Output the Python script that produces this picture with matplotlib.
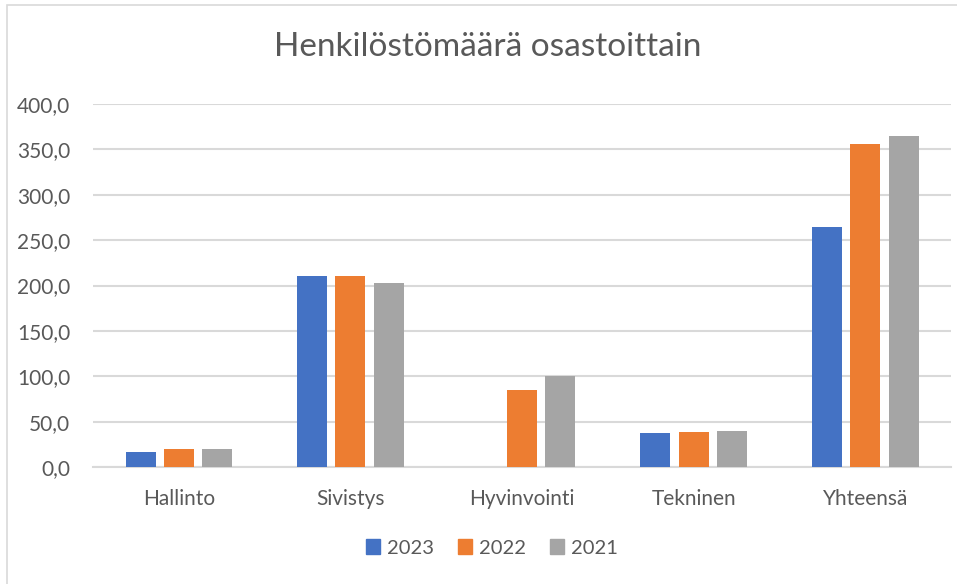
import matplotlib
matplotlib.use("Agg")
import matplotlib.pyplot as plt
import numpy as np
from matplotlib.patches import Rectangle

categories = ["Hallinto", "Sivistys", "Hyvinvointi", "Tekninen", "Yhteensä"]
series_names = ["2023", "2022", "2021"]
v2023 = [16.5, 210.4, 0.0, 37.1, 265.0]
v2022 = [19.5, 210.0, 84.9, 38.6, 355.8]
v2021 = [19.8, 202.6, 100.5, 39.3, 365.1]
yticks = [0, 50, 100, 150, 200, 250, 300, 350, 400]
colors = ["#4472C4", "#ED7D31", "#A5A5A5"]
title = "Henkilöstömäärä osastoittain"

plt.rcParams['font.family'] = ['Lato', 'DejaVu Sans']
W, H = 957, 584
fig = plt.figure(figsize=(W / 100, H / 100), dpi=100)
fig.patch.set_facecolor("white")

# outer chart border
fig.add_artist(Rectangle((7 / W, -0.1), 1.2, (H - 5) / H + 0.1, transform=fig.transFigure,
                         fill=False, edgecolor="#D9D9D9", linewidth=1.2))

left, right, top, bottom = 93, 951, 104, 467
ax = fig.add_axes([left / W, 1 - bottom / H, (right - left) / W, (bottom - top) / H])
ax.set_xlim(0, len(categories))
ax.set_ylim(0, 400)

x = np.arange(len(categories)) + 0.5
bw = 30 / 171.6
step = 38.3 / 171.6
for i, (vals, name) in enumerate(zip([v2023, v2022, v2021], series_names)):
    ax.bar(x + (i - 1) * step, vals, width=bw, color=colors[i], label=name, zorder=3)

ax.set_yticks(yticks)
ax.set_yticklabels([f"{t:.1f}".replace(".", ",") for t in yticks])
ax.set_xticks(x)
ax.set_xticklabels(categories)
ax.grid(axis="y", color="#D9D9D9", linewidth=1.5, zorder=0)
ax.set_axisbelow(True)
for s in ["top", "right", "left"]:
    ax.spines[s].set_visible(False)
ax.spines["bottom"].set_color("#D9D9D9")
ax.spines["bottom"].set_linewidth(1.5)
ax.tick_params(axis="both", length=0, labelsize=15, colors="#595959")
ax.tick_params(axis="y", pad=16.5)
ax.tick_params(axis="x", pad=16)

fig.text(488 / W, 1 - 47 / H, title, ha="center", va="center", fontsize=24,
         color="#595959")

handles = [Rectangle((0, 0), 1, 1, color=c) for c in colors]
fig.legend(handles, series_names, loc="center", bbox_to_anchor=(492 / W, 1 - 548 / H),
           ncol=3, frameon=False, fontsize=14.5, labelcolor="#595959",
           handlelength=0.7, handleheight=0.7, handletextpad=0.35, columnspacing=1.2)

fig.savefig("out.png", dpi=100, facecolor="white")
